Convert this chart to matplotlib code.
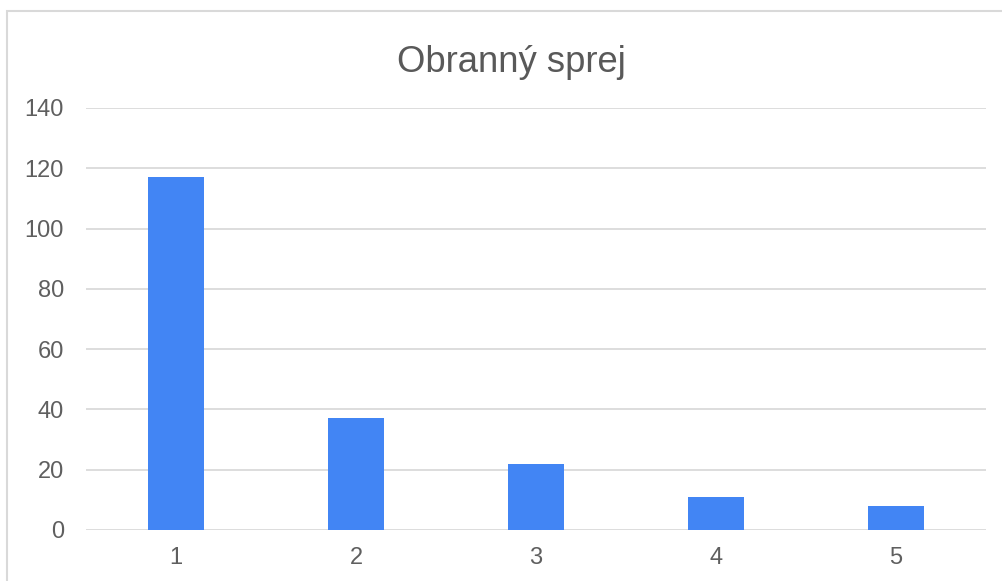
import matplotlib.pyplot as plt
from matplotlib.patches import Rectangle

# Responses per rating
ratings = ["1", "2", "3", "4", "5"]
counts = [117, 37, 22, 11, 8]
y_ticks = [0, 20, 40, 60, 80, 100, 120, 140]

plt.rcParams['font.family'] = ['Liberation Sans', 'DejaVu Sans']

fig = plt.figure(figsize=(10.03, 5.81), dpi=100)
ax = fig.add_axes([86 / 1003, 1 - 530 / 581, 900 / 1003, 422 / 581])

# Light frame around the chart, cut off on the right and bottom
fig.patches.append(Rectangle((7 / 1003, -0.05), 1.1, 1 - 11 / 581 + 0.05,
                             transform=fig.transFigure, fill=False,
                             edgecolor='#d9d9d9', linewidth=1.5))

x = range(1, len(ratings) + 1)
ax.bar(x, counts, width=0.31, color='#4285f4', zorder=3)

ax.set_xlim(0.5, 5.5)
ax.set_ylim(0, 140)
ax.set_yticks(y_ticks)
ax.set_xticks(list(x))
ax.set_xticklabels(ratings)
ax.grid(axis='y', color='#dadada', linewidth=1.3, zorder=0)
ax.set_axisbelow(True)
for s in ax.spines.values():
    s.set_visible(False)
ax.tick_params(length=0, labelsize=17, labelcolor='#5f5f5f')
ax.tick_params(axis='y', pad=16)
ax.tick_params(axis='x', pad=12)

fig.text(511 / 1003, 1 - 72 / 581, "Obranný sprej", ha='center', va='baseline',
         fontsize=26.3, color='#595959')

fig.savefig("out.png", dpi=100)
